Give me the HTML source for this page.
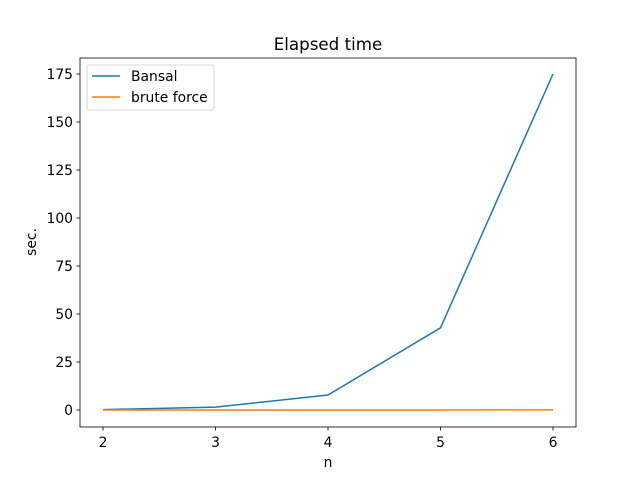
<!DOCTYPE html>
<html><head><meta charset="utf-8"><style>
body{margin:0;background:#fff}
svg{font-family:"DejaVu Sans","Liberation Sans",sans-serif;display:block}
</style></head><body>
<svg width="640" height="480">
<rect width="640" height="480" fill="#fff"/>
<g id="plot"></g>
</svg>
<script>
const categories=[2,3,4,5,6];
const bansal=[0.2,1.5,7.8,42.8,175];
const brute=[0.01,0.01,0.02,0.03,0.05];
const yTicks=[0,25,50,75,100,125,150,175];
const xTicks=[2,3,4,5,6];
const L=80,R=576,T=58,B=427;
const xs=v=>103+(v-2)*(553-103)/4;
const ys=v=>410-v*(410-74)/175;
const NS="http://www.w3.org/2000/svg";
const g=document.getElementById('plot');
function el(t,a,txt){const e=document.createElementNS(NS,t);for(const k in a)e.setAttribute(k,a[k]);if(txt!==undefined)e.textContent=txt;g.appendChild(e);return e;}
xTicks.forEach(v=>{const x=xs(v);
const t=el('line',{x1:x,x2:x,y1:B,y2:B+3.5,stroke:'#000','stroke-width':0.8});


const l=el('text',{x:x,y:B+20,'font-size':13.9,'text-anchor':'middle'},v);

});
yTicks.forEach(v=>{const y=ys(v);
const t=el('line',{x1:L-3.5,x2:L,y1:y,y2:y,stroke:'#000','stroke-width':0.8});


const l=el('text',{x:L-7,y:y+5,'font-size':13.9,'text-anchor':'end'},v);

});
function line(vals,color,name){const p=el('polyline',{points:categories.map((c,i)=>xs(c)+','+ys(vals[i])).join(' '),fill:'none',stroke:color,'stroke-width':1.5});

}
line(bansal,'#1f77b4','bansal-line');
line(brute,'#ff7f0e','brute-force-line');
const f=el('rect',{x:L,y:T,width:R-L,height:B-T,fill:'none',stroke:'#000','stroke-width':0.8});


const ti=el('text',{x:328,y:50,'font-size':16.7,'text-anchor':'middle'},'Elapsed time');


const xl=el('text',{x:328,y:467,'font-size':13.9,'text-anchor':'middle'},'n');


const yl=el('text',{x:36,y:242,'font-size':13.9,'text-anchor':'middle',transform:'rotate(-90 36 242)'},'sec.');


const lg=el('rect',{x:87,y:65,width:127,height:45,rx:2,fill:'#fff',stroke:'#ccc','stroke-width':0.8});


[['Bansal','#1f77b4',76],['brute force','#ff7f0e',97]].forEach(([n,c,y])=>{
const s=el('line',{x1:92,x2:120,y1:y,y2:y,stroke:c,'stroke-width':1.5});


const t=el('text',{x:131,y:y+5,'font-size':13.9},n);

});
</script>
</body></html>
